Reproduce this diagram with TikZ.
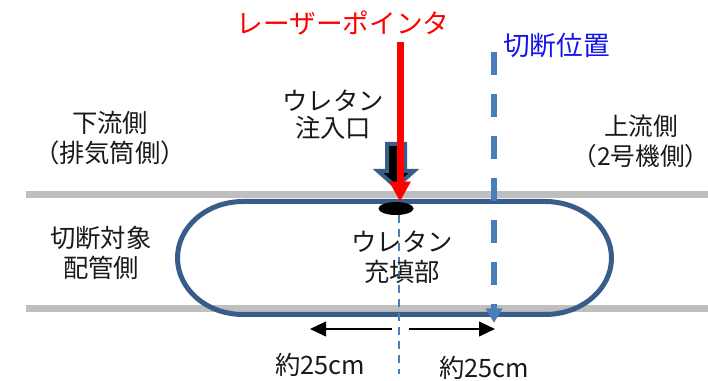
\documentclass[tikz,border=0pt]{standalone}
\usepackage{fontspec}
\setmainfont{Noto Sans CJK JP}
\usetikzlibrary{arrows.meta,shapes.geometric}
\definecolor{pipeblue}{RGB}{56,93,138}
\definecolor{cutblue}{RGB}{74,126,187}
\definecolor{pipegray}{RGB}{191,191,191}
\definecolor{labelblue}{RGB}{20,20,235}

\begin{document}
\begin{tikzpicture}[x=0.75pt,y=-0.75pt]
    \tikzset{
      txt/.style={align=center, inner sep=0pt, text=black!90,
        font=\fontsize{19}{22.5}\selectfont},
      big/.style={inner sep=0pt, font=\fontsize{20}{24}\selectfont},
      pipe/.style={pipegray, line width=5.25pt},
      laser/.style={red, line width=5.25pt, -{Triangle[length=15pt,width=15pt]}},
      cutline/.style={cutblue, line width=4.5pt, dash pattern=on 17.25pt off 14.25pt,
        -{Triangle[length=11pt,width=12pt]}},
      centerline/.style={cutblue, line width=1.5pt, dash pattern=on 6pt off 4.5pt},
      dim/.style={black, line width=1.5pt, -{Triangle[length=12pt,width=11pt]}}
    }
    \useasboundingbox (0,0) rectangle (708,381);
    % pipe walls
    \draw[pipe] (26,194.5) -- (708,194.5);
    \draw[pipe] (26,309) -- (708,309);
    % urethane filled section
    \draw[pipeblue, line width=3.75pt] (243,201.5) -- (545,201.5)
      arc[start angle=-90, end angle=90, x radius=66.5, y radius=56.5]
      -- (243,314.5)
      arc[start angle=90, end angle=270, x radius=65.5, y radius=56.5] -- cycle;
    % injection arrow
    \draw[pipeblue, fill=black, line width=3pt] (387,144) -- (405,144) -- (405,171)
      -- (414,171) -- (396,187) -- (378,171) -- (387,171) -- cycle;
    \node[ellipse, fill=black, inner sep=0pt, minimum width=26.25pt,
      minimum height=9.75pt] (port) at (396,208.5) {};
    % center axis
    \coordinate (axistop) at (399,215);
    \coordinate (axisend) at (399,374);
    \draw[centerline] (axistop) -- (axisend);
    % laser pointer
    \node[big, text=red] (laser) at (343,23) {レーザーポインタ};
    \coordinate (laserstart) at (400,42);
    \draw[laser] (laserstart) -- (laserstart |- port.north);
    % cutting position
    \node[big, text=labelblue, anchor=west] (cut) at (503,46) {切断位置};
    \coordinate (cuttop) at (494,52);
    \coordinate (cutend) at (494,323);
    \draw[cutline] (cuttop) -- (cutend);
    % distances
    \coordinate (dimLs) at (392,329);
    \coordinate (dimL) at (310,329);
    \coordinate (dimRs) at (409,329);
    \coordinate (dimR) at (495,329);
    \draw[dim] (dimLs) -- (dimL);
    \draw[dim] (dimRs) -- (dimR);
    \node[txt] (distL) at (320,365) {約25cm};
    \node[txt] (distR) at (484,368) {約25cm};
    % labels
    \node[txt, font=\fontsize{19}{20}\selectfont] (inject) at (333,115) {ウレタン\\注入口};
    \node[txt] (down) at (110,138) {下流側\\（排気筒側）};
    \node[txt, font=\fontsize{18.5}{22.5}\selectfont] (up) at (641,141) {上流側\\（2号機側）};
    \node[txt] (target) at (101,252.5) {切断対象\\配管側};
    \node[txt] (filled) at (402,257) {ウレタン\\充填部};
\end{tikzpicture}
\end{document}
